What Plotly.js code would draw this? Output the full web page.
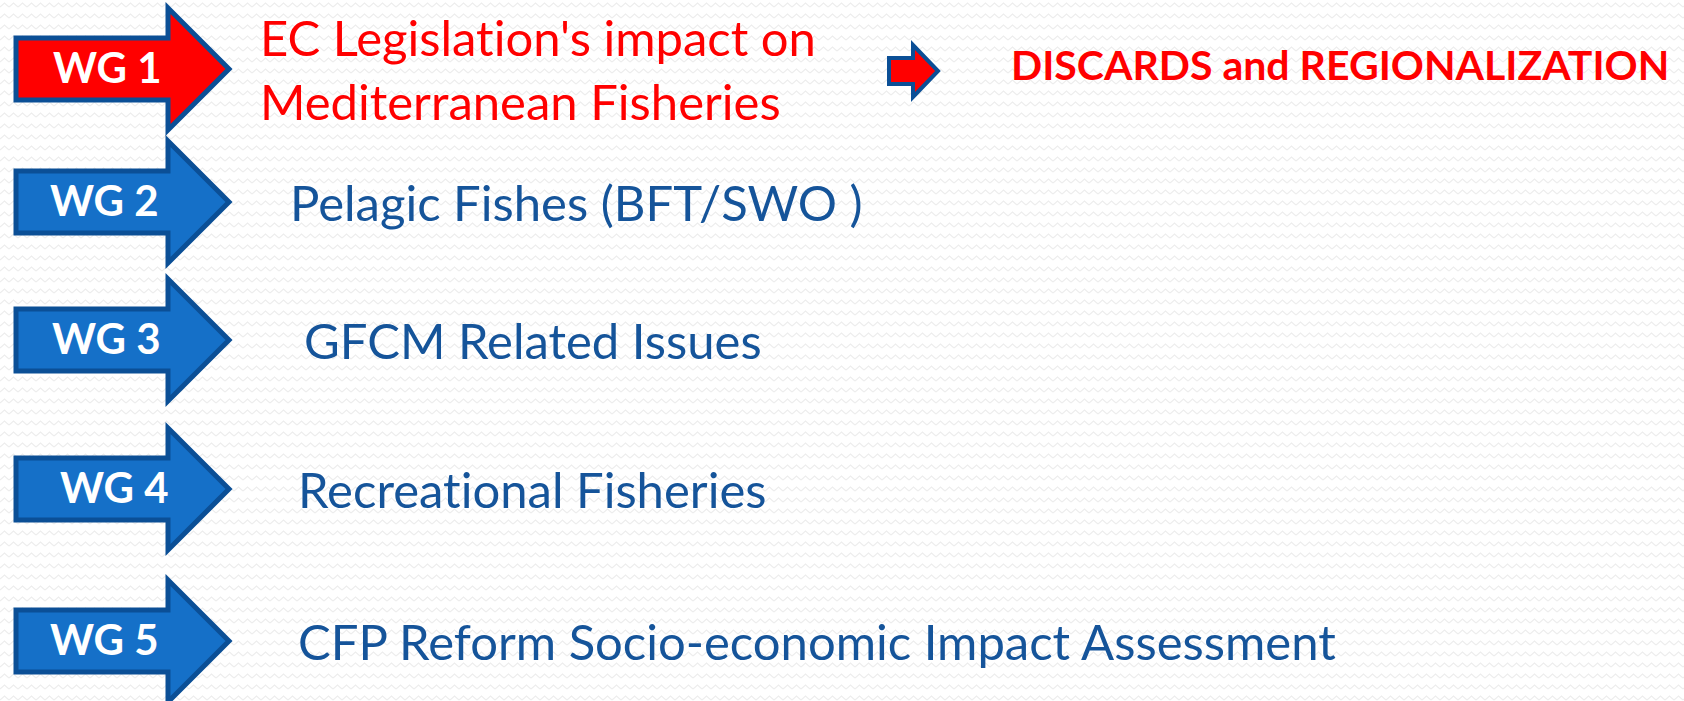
<!DOCTYPE html>
<html>
<head>
<meta charset="utf-8">
<script src="https://cdn.plot.ly/plotly-3.0.1.min.js"></script>
<style>
html,body{margin:0;padding:0;background:#fff;}
#chart{width:1684px;height:701px;}
#chart text{font-variant-ligatures:none !important;font-feature-settings:"liga" 0,"clig" 0 !important;}
</style>
</head>
<body>
<div id="chart"></div>
<script>
// ---- content ----
const groupLabels = ["WG 1", "WG 2", "WG 3", "WG 4", "WG 5"];
const groupTopics = [
  "EC Legislation's impact on<br>Mediterranean Fisheries",
  "Pelagic Fishes (BFT/SWO )",
  "GFCM Related Issues",
  "Recreational Fisheries",
  "CFP Reform Socio-economic Impact Assessment"
];
const highlighted = [true, false, false, false, false];
const outcomeText = "DISCARDS and REGIONALIZATION";

// ---- layout config (positions / styles) ----
const W = 1684, H = 701;
const rowY = [69, 202, 340, 489, 641];
const topicX = [258, 288, 302, 296, 296];
const labelX = [107, 104, 106, 114, 104];
const RED = "#FF0000", BLUE_FILL = "#1570C8", BORDER = "#0B4F96", TEXT_BLUE = "#15549A";
const FONT = "Lato, 'Open Sans', sans-serif";

function arrowPath(x0, xHead, xTip, yc, bodyHalf, headHalf) {
  return `M ${x0} ${yc - bodyHalf} L ${xHead} ${yc - bodyHalf} L ${xHead} ${yc - headHalf} ` +
         `L ${xTip} ${yc} L ${xHead} ${yc + headHalf} L ${xHead} ${yc + bodyHalf} L ${x0} ${yc + bodyHalf} Z`;
}

// faint zigzag background texture
const bgSvg = `<svg xmlns="http://www.w3.org/2000/svg" width="${W}" height="${H}">` +
  `<defs><pattern id="z" width="9" height="11" patternUnits="userSpaceOnUse">` +
  `<path d="M0 7 L4.5 3 L9 7" fill="none" stroke="#EDEDED" stroke-width="1.2"/></pattern></defs>` +
  `<rect width="100%" height="100%" fill="#FFFFFF"/><rect width="100%" height="100%" fill="url(#z)"/></svg>`;
const bgUri = "data:image/svg+xml;charset=utf-8," + encodeURIComponent(bgSvg);

const shapes = [];
const annotations = [];
groupLabels.forEach((lab, i) => {
  const yc = rowY[i];
  shapes.push({
    type: "path", xref: "x", yref: "y",
    path: arrowPath(16, 168, 229, yc, 31, 61),
    fillcolor: highlighted[i] ? RED : BLUE_FILL,
    line: {color: BORDER, width: 5}, layer: "above"
  });
  annotations.push({
    x: labelX[i], y: yc - 2, xref: "x", yref: "y", text: "<b>" + lab + "</b>",
    showarrow: false, xanchor: "center", yanchor: "middle",
    font: {family: FONT, size: 42, color: "#FFFFFF"}
  });
  annotations.push({
    x: topicX[i], y: yc, xref: "x", yref: "y", text: groupTopics[i],
    showarrow: false, xanchor: "left", yanchor: "middle", align: "left",
    font: {family: FONT, size: 49, color: highlighted[i] ? RED : TEXT_BLUE}
  });
});
// small arrow to the outcome
shapes.push({
  type: "path", xref: "x", yref: "y",
  path: arrowPath(889, 913, 938, 71, 13, 26),
  fillcolor: RED, line: {color: BORDER, width: 4}, layer: "above"
});
annotations.push({
  x: 1009, y: 64, xref: "x", yref: "y", text: "<b>" + outcomeText + "</b>",
  showarrow: false, xanchor: "left", yanchor: "middle",
  font: {family: FONT, size: 41, color: RED}
});

const layout = {
  width: W, height: H,
  margin: {l: 0, r: 0, t: 0, b: 0, pad: 0},
  paper_bgcolor: "#FFFFFF", plot_bgcolor: "rgba(0,0,0,0)",
  xaxis: {range: [0, W], visible: false, fixedrange: true},
  yaxis: {range: [H, 0], visible: false, fixedrange: true},
  showlegend: false,
  images: [{source: bgUri, xref: "paper", yref: "paper", x: 0, y: 1, sizex: 1, sizey: 1,
            xanchor: "left", yanchor: "top", sizing: "stretch", layer: "below"}],
  shapes: shapes, annotations: annotations
};
Plotly.newPlot("chart", [], layout, {staticPlot: true, displayModeBar: false});
</script>
</body>
</html>
